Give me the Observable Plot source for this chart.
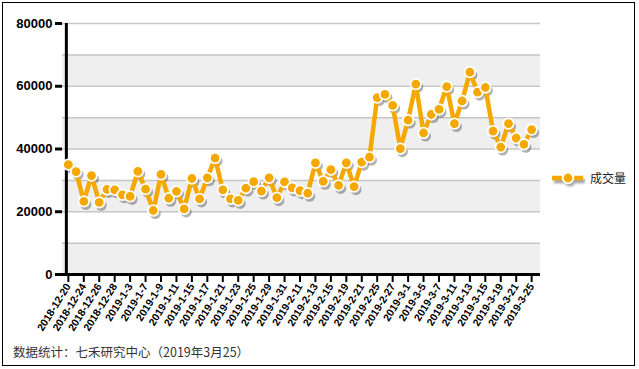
<!DOCTYPE html>
<html>
<head>
<meta charset="utf-8">
<script src="https://cdn.jsdelivr.net/npm/d3@7"></script>
<script src="https://cdn.jsdelivr.net/npm/@observablehq/plot@0.6"></script>
<style>
  html, body { margin: 0; padding: 0; background: #fff; }
  #wrap { position: relative; width: 639px; height: 369px; overflow: hidden; }
  #border { position: absolute; left: 2px; top: 2px; width: 631px; height: 362px; border: 1.5px solid #000; }
  #chart { position: absolute; left: 0; top: 0; }
  #legend { position: absolute; left: 551px; top: 169px; display: flex; align-items: center; font-family: "Noto Sans CJK SC", sans-serif; font-size: 12px; color: #222; }
  #legend span { margin-left: 3px; }
  #caption { position: absolute; left: 13px; top: 342px; font-family: "Noto Sans CJK SC", sans-serif; font-size: 12.5px; color: #333; }
</style>
</head>
<body>
<div id="wrap">
  <div id="border"></div>
  <div id="chart"></div>
  <div id="legend"></div>
  <div id="caption">数据统计：七禾研究中心（2019年3月25）</div>
</div>
<script>
const dates = [
  "2018-12-20","2018-12-21","2018-12-24","2018-12-25","2018-12-26","2018-12-27","2018-12-28","2019-1-2",
  "2019-1-3","2019-1-4","2019-1-7","2019-1-8","2019-1-9","2019-1-10","2019-1-11","2019-1-14",
  "2019-1-15","2019-1-16","2019-1-17","2019-1-18","2019-1-21","2019-1-22","2019-1-23","2019-1-24",
  "2019-1-25","2019-1-28","2019-1-29","2019-1-30","2019-1-31","2019-2-1","2019-2-11","2019-2-12",
  "2019-2-13","2019-2-14","2019-2-15","2019-2-18","2019-2-19","2019-2-20","2019-2-21","2019-2-22",
  "2019-2-25","2019-2-26","2019-2-27","2019-2-28","2019-3-1","2019-3-4","2019-3-5","2019-3-6",
  "2019-3-7","2019-3-8","2019-3-11","2019-3-12","2019-3-13","2019-3-14","2019-3-15","2019-3-18",
  "2019-3-19","2019-3-20","2019-3-21","2019-3-22","2019-3-25"
];
const volume = [
  35000,32800,23300,31500,23000,27100,27000,25400,
  24900,32900,27200,20400,31900,24300,26500,20900,
  30600,24100,30800,37100,27000,24100,23600,27500,
  29600,26600,30800,24500,29500,27600,26700,25900,
  35600,29700,33400,28400,35600,28000,35800,37400,
  56400,57400,53900,40100,49200,60700,45100,51000,
  52600,59900,48100,55300,64500,58100,59600,45700,
  40600,48100,43500,41500,46200
];
const tickLabels = [
  "2018-12-20","2018-12-24","2018-12-26","2018-12-28","2019-1-3","2019-1-7","2019-1-9","2019-1-11",
  "2019-1-15","2019-1-17","2019-1-21","2019-1-23","2019-1-25","2019-1-29","2019-1-31","2019-2-11",
  "2019-2-13","2019-2-15","2019-2-19","2019-2-21","2019-2-25","2019-2-27","2019-3-1","2019-3-5",
  "2019-3-7","2019-3-11","2019-3-13","2019-3-15","2019-3-19","2019-3-21","2019-3-25"
];
const yTicks = [0, 20000, 40000, 60000, 80000];
const gridLines = [10000, 20000, 30000, 40000, 50000, 60000, 70000, 80000];
const bandLo = [0, 20000, 40000, 60000];
const bandHi = [10000, 30000, 50000, 70000];
const seriesName = "成交量";

const data = dates.map((d, i) => ({date: d, value: volume[i]}));
const bands = bandLo.map((lo, i) => ({lo, hi: bandHi[i]}));
const orange = "#f5a800";

const chart = Plot.plot({
  width: 639,
  height: 330,
  marginLeft: 62,
  marginRight: 99,
  marginTop: 23,
  marginBottom: 56,
  style: {fontFamily: "'Liberation Sans', Arial, sans-serif", background: "transparent", overflow: "visible"},
  x: {type: "point", domain: dates, range: [64, 535]},
  y: {domain: [0, 80000]},
  marks: [
    Plot.rect(bands, {y1: "lo", y2: "hi", fill: "#efefef"}),
    Plot.ruleY(gridLines, {stroke: "#c6c6c6", strokeWidth: 1.5}),
    Plot.axisY({ticks: yTicks, tickSize: 7, tickPadding: 3, strokeWidth: 3, stroke: "#000",
      tickFormat: d3.format("d"), fontWeight: "bold", fontSize: 13, fill: "#000", label: null}),
    Plot.axisX({ticks: tickLabels, tickSize: 8, tickPadding: 2, strokeWidth: 2, stroke: "#000",
      tickRotate: -58, fontWeight: "bold", fontSize: 10.5, fill: "#000", label: null}),
    Plot.ruleY([0], {stroke: "#000", strokeWidth: 3}),
    Plot.ruleX([dates[0]], {y1: 80000, y2: 0, dx: -2, stroke: "#000", strokeWidth: 3}),
    Plot.line(data, {x: "date", y: "value", stroke: "#000", strokeOpacity: 0.35, strokeWidth: 4.5, dx: 2, dy: 3, ariaLabel: "shadow"}),
    Plot.dot(data, {x: "date", y: "value", r: 5.5, fill: "#000", fillOpacity: 0.3, dx: 2, dy: 3, ariaLabel: "shadow"}),
    Plot.line(data, {x: "date", y: "value", stroke: orange, strokeWidth: 4.5, strokeLinejoin: "miter"}),
    Plot.dot(data, {x: "date", y: "value", r: 5.3, fill: orange, stroke: "#fff", strokeWidth: 1.8})
  ]
});

// soft blur for the drop shadows
const ns = "http://www.w3.org/2000/svg";
const defs = document.createElementNS(ns, "defs");
defs.innerHTML = '<filter id="sh" x="-10%" y="-10%" width="120%" height="120%"><feGaussianBlur stdDeviation="1.4"/></filter>';
chart.insertBefore(defs, chart.firstChild);
chart.querySelectorAll('[aria-label="shadow"]').forEach(g => g.setAttribute("filter", "url(#sh)"));
document.getElementById("chart").appendChild(chart);

// legend
const leg = document.getElementById("legend");
leg.innerHTML = `<svg width="36" height="16" style="overflow:visible">
  <defs><filter id="sh2" x="-20%" y="-50%" width="140%" height="200%"><feGaussianBlur stdDeviation="1.3"/></filter></defs>
  <g filter="url(#sh2)" opacity="0.35"><line x1="1" y1="8" x2="32" y2="8" stroke="#000" stroke-width="4.5" transform="translate(2,3)"/><circle cx="17" cy="8" r="5.5" transform="translate(2,3)"/></g>
  <line x1="1" y1="8" x2="32" y2="8" stroke="${orange}" stroke-width="4.5"/>
  <circle cx="17" cy="8" r="5.3" fill="${orange}" stroke="#fff" stroke-width="1.8"/>
</svg><span>${seriesName}</span>`;
</script>
</body>
</html>
